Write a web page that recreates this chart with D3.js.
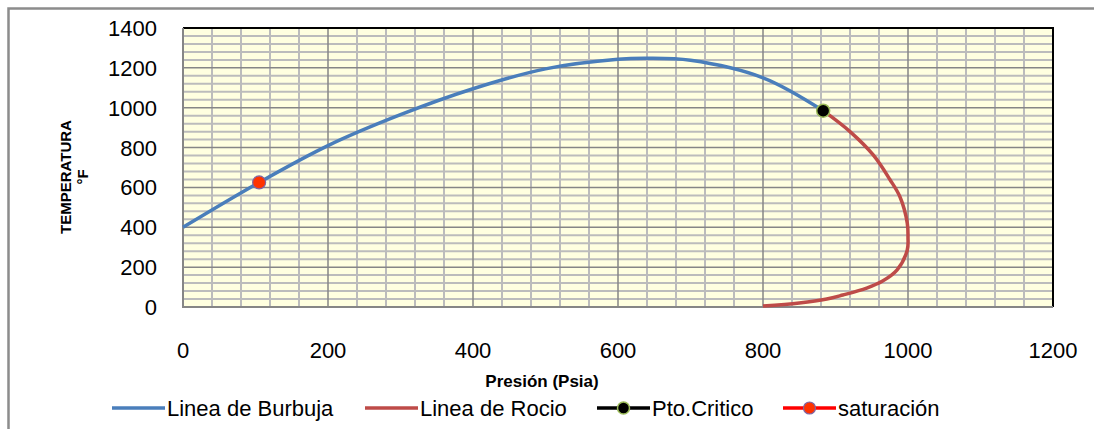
<!DOCTYPE html>
<html>
<head>
<meta charset="utf-8">
<script src="https://cdn.jsdelivr.net/npm/d3@7"></script>
<style>
  body { margin: 0; background: #fff; }
  svg { display: block; font-family: "Liberation Sans", Arial, sans-serif; }
</style>
</head>
<body>
<div id="chart"></div>
<script>
// Curva de burbuja (Presion psia, Temperatura F)
var burbujaP = [0, 105, 200, 300, 400, 500, 600, 640, 700, 800, 883];
var burbujaT = [400, 625, 810, 965, 1095, 1195, 1243, 1248, 1238, 1150, 985];

// Curva de rocio
var rocioP = [883, 920, 952, 975, 989, 999, 1000, 999, 985, 965, 943, 910, 888, 850, 800];
var rocioT = [985, 880, 763, 640, 552, 421, 350, 286, 186, 130, 95, 60, 40, 20, 5];

var criticoP = [883], criticoT = [985];
var saturacionP = [105], saturacionT = [625];

var xTicks = [0, 200, 400, 600, 800, 1000, 1200];
var yTicks = [0, 200, 400, 600, 800, 1000, 1200, 1400];

var legendNames = ["Linea de Burbuja", "Linea de Rocio", "Pto.Critico", "saturación"];

var W = 1094, H = 429;
var margin = { top: 28, left: 183, right: W - 1053, bottom: H - 307 };
var width = W - margin.left - margin.right,
  height = H - margin.top - margin.bottom;

var svg = d3.select("#chart").append("svg").attr("width", W).attr("height", H);

// outer chart frame (only left/top show in the crop)
svg.append("path")
  .attr("d", "M8.5,429 L8.5,8.5 L1094,8.5")
  .attr("fill", "none").attr("stroke", "#8c8c8c").attr("stroke-width", 2.5);

var g = svg.append("g").attr("transform", "translate(" + margin.left + "," + margin.top + ")");

var x = d3.scaleLinear().domain([0, 1200]).range([0, width]);
var y = d3.scaleLinear().domain([0, 1400]).range([height, 0]);

g.append("rect").attr("width", width).attr("height", height).attr("fill", "#ffffe0");

// minor grid every 40
var minorX = d3.range(40, 1200, 40).filter(function (v) { return v % 200 !== 0; });
var minorY = d3.range(40, 1400, 40).filter(function (v) { return v % 200 !== 0; });
g.selectAll(".mx").data(minorX).enter().append("line")
  .attr("x1", x).attr("x2", x).attr("y1", 0).attr("y2", height)
  .attr("stroke", "#bcbcbc").attr("stroke-width", 2);
g.selectAll(".my").data(minorY).enter().append("line")
  .attr("y1", y).attr("y2", y).attr("x1", 0).attr("x2", width)
  .attr("stroke", "#bcbcbc").attr("stroke-width", 2);

// major grid
g.selectAll(".Mx").data(xTicks.slice(1, -1)).enter().append("line")
  .attr("x1", x).attr("x2", x).attr("y1", 0).attr("y2", height)
  .attr("stroke", "#868686").attr("stroke-width", 1.5);
g.selectAll(".My").data(yTicks.slice(1, -1)).enter().append("line")
  .attr("y1", y).attr("y2", y).attr("x1", 0).attr("x2", width)
  .attr("stroke", "#868686").attr("stroke-width", 1.5);

// plot border: black top/right, gray axes
g.append("path").attr("d", "M0,0 H" + width + " V" + height)
  .attr("fill", "none").attr("stroke", "#000").attr("stroke-width", 2);
g.append("path").attr("d", "M0,0 V" + height + " H" + width)
  .attr("fill", "none").attr("stroke", "#868686").attr("stroke-width", 2);

// tick labels
g.selectAll(".xl").data(xTicks).enter().append("text")
  .attr("x", x).attr("y", height + 51)
  .attr("text-anchor", "middle").style("font-size", "22px").text(function (d) { return d; });
g.selectAll(".yl").data(yTicks).enter().append("text")
  .attr("x", -26).attr("y", function (d) { return y(d) + 8; })
  .attr("text-anchor", "end").style("font-size", "22px").text(function (d) { return d; });

// axis titles
svg.append("text").attr("x", 542).attr("y", 387).attr("text-anchor", "middle")
  .style("font-size", "17px").style("font-weight", "bold").text("Presión (Psia)");
svg.append("text").attr("transform", "translate(71,177) rotate(-90)").attr("text-anchor", "middle")
  .style("font-size", "15px").style("font-weight", "bold").text("TEMPERATURA");
svg.append("text").attr("transform", "translate(88,177) rotate(-90)").attr("text-anchor", "middle")
  .style("font-size", "15px").style("font-weight", "bold").text("°F");

// curves
var line = d3.line()
  .x(function (d) { return x(d[0]); })
  .y(function (d) { return y(d[1]); })
  .curve(d3.curveCatmullRom.alpha(0.5));

var burbuja = d3.zip(burbujaP, burbujaT);
var rocio = d3.zip(rocioP, rocioT);

g.append("path").datum(burbuja).attr("d", line)
  .attr("fill", "none").attr("stroke", "#4a7ebb").attr("stroke-width", 3.5);
g.append("path").datum(rocio).attr("d", line)
  .attr("fill", "none").attr("stroke", "#be4b48").attr("stroke-width", 3.5);

g.selectAll(".crit").data(d3.zip(criticoP, criticoT)).enter().append("circle")
  .attr("cx", function (d) { return x(d[0]); }).attr("cy", function (d) { return y(d[1]); })
  .attr("r", 6.5).attr("fill", "#000").attr("stroke", "#9bbb59").attr("stroke-width", 1.5);
g.selectAll(".sat").data(d3.zip(saturacionP, saturacionT)).enter().append("circle")
  .attr("cx", function (d) { return x(d[0]); }).attr("cy", function (d) { return y(d[1]); })
  .attr("r", 6.5).attr("fill", "#ff3300").attr("stroke", "#8064a2").attr("stroke-width", 1.2);

// legend
var legendX = [112, 365, 597, 783];
var legendColor = ["#4a7ebb", "#be4b48", "#000", "#ff0000"];
var leg = svg.selectAll(".leg").data(legendNames).enter().append("g")
  .attr("transform", function (d, i) { return "translate(" + legendX[i] + ",408)"; });
leg.append("line").attr("x1", 0).attr("x2", 53).attr("y1", 0).attr("y2", 0)
  .attr("stroke", function (d, i) { return legendColor[i]; }).attr("stroke-width", 3.5);
leg.filter(function (d, i) { return i === 2; }).append("circle")
  .attr("cx", 26.5).attr("r", 6).attr("fill", "#000").attr("stroke", "#9bbb59").attr("stroke-width", 1.5);
leg.filter(function (d, i) { return i === 3; }).append("circle")
  .attr("cx", 26.5).attr("r", 6).attr("fill", "#ff3300").attr("stroke", "#8064a2").attr("stroke-width", 1.2);
leg.append("text").attr("x", 55).attr("y", 8).style("font-size", "22px").text(function (d) { return d; });
</script>
</body>
</html>
